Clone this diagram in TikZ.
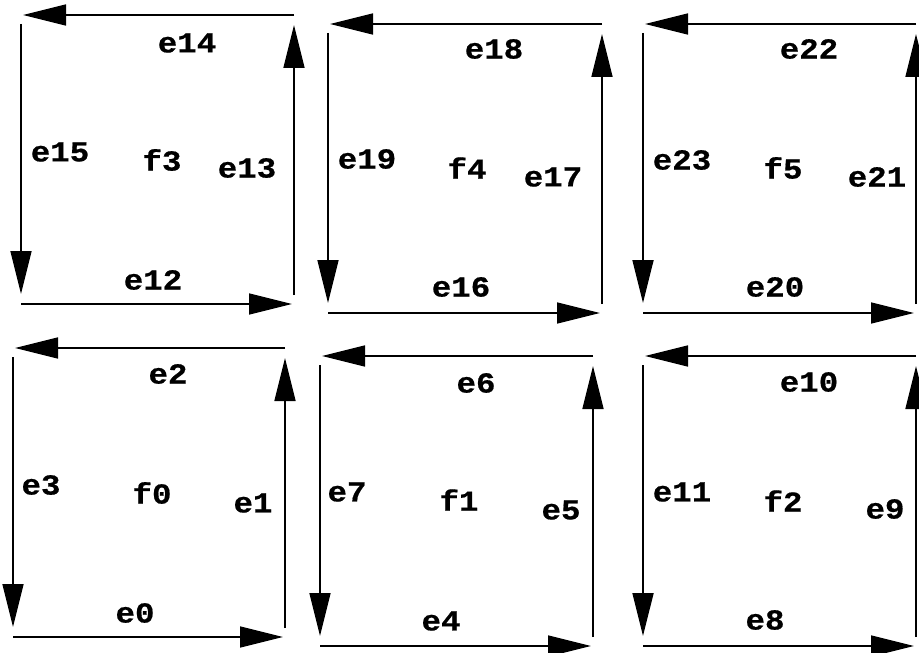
\documentclass[tikz,border=0pt]{standalone}
\usepackage{fontspec}
\newfontfamily\lblfont[FakeStretch=1.12, BoldFeatures={FakeBold=0.6}]{Liberation Mono}
\usetikzlibrary{arrows.meta}

\begin{document}
\begin{tikzpicture}[x=0.5pt, y=-0.5pt,
  edge/.style={line width=0.85pt, -{Triangle[length=21.5pt, width=10.5pt]}},
  hedge/.style={edge, shorten >=1pt},
  vedge/.style={edge, shorten <=4.5pt, shorten >=5pt},
  lbl/.style={font=\fontsize{14.5}{14.5}\selectfont\lblfont\bfseries, inner sep=0pt}]
\useasboundingbox (0,0) rectangle (919,652);
% corners of the six faces: face/left/right/top/bottom
\foreach \f/\l/\r/\t/\b in {0/13/285/348/637, 1/320/593/356/646, 2/643/916/356/646,
                            3/21/294/15/304, 4/328/602/24/313, 5/643/916/24/313} {
  \coordinate (nw\f) at (\l,\t);
  \coordinate (ne\f) at (\r,\t);
  \coordinate (sw\f) at (\l,\b);
  \coordinate (se\f) at (\r,\b);
  \draw[hedge] (sw\f) -- (se\f);
  \draw[vedge] (se\f) -- (ne\f);
  \draw[hedge] (ne\f) -- (nw\f);
  \draw[vedge] (nw\f) -- (sw\f);
}
% edge and face labels
\foreach \n/\x/\y in {e0/135/613, e1/253/503, e2/168/374, e3/41/485,
                      e4/441/621, e5/561/510, e6/476/383, e7/347/492,
                      e8/765/620, e9/885/509, e10/809/382, e11/682/492,
                      e12/153/280, e13/247/168, e14/187/43, e15/60/152,
                      e16/461/287, e17/553/177, e18/494/49, e19/367/159,
                      e20/775/287, e21/877/177, e22/809/49, e23/682/160,
                      f0/152/493, f1/459/500, f2/783/501,
                      f3/162/160, f4/467/168, f5/783/168}
  \node[lbl] (\n) at (\x,\y) {\n};
\end{tikzpicture}
\end{document}
